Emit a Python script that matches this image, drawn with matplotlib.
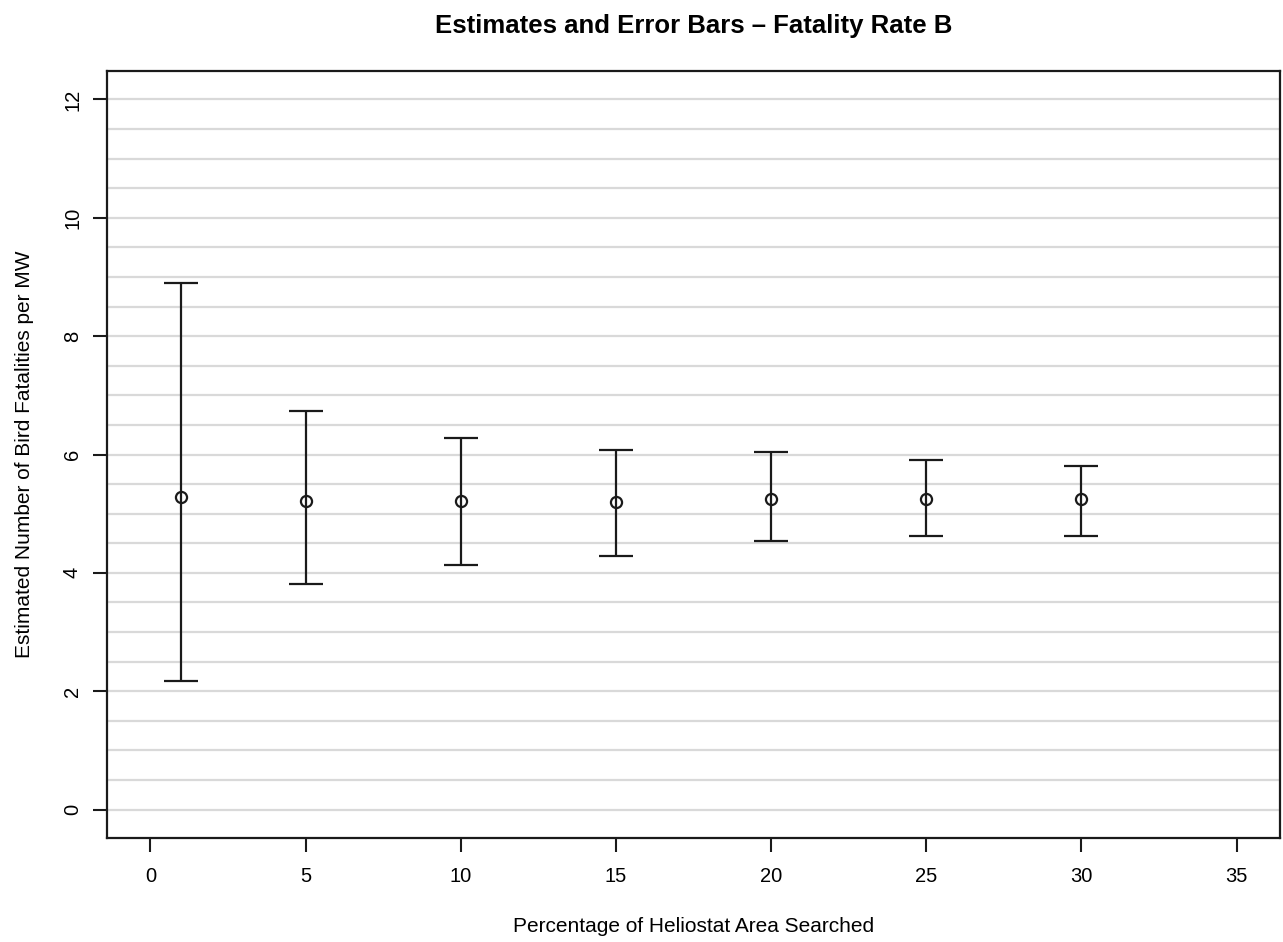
import matplotlib
matplotlib.use('Agg')
import matplotlib.pyplot as plt
import numpy as np

plt.rcParams['font.family'] = ['Liberation Sans', 'DejaVu Sans']

# dati
percent = [1, 5, 10, 15, 20, 25, 30]
estimate = [5.28, 5.21, 5.21, 5.19, 5.24, 5.24, 5.24]
lower = [2.17, 3.82, 4.14, 4.28, 4.53, 4.63, 4.63]
upper = [8.89, 6.73, 6.28, 6.07, 6.05, 5.90, 5.81]

x_ticks = [0, 5, 10, 15, 20, 25, 30, 35]
y_ticks = [0, 2, 4, 6, 8, 10, 12]
grid_levels = np.arange(0, 12.01, 0.5)

fig = plt.figure(figsize=(12.83, 9.42), dpi=100)
ax = fig.add_axes([107 / 1283, 1 - 838 / 942, (1280 - 107) / 1283, (838 - 71) / 942])

# linee orizzontali grigie
for g in grid_levels:
    ax.axhline(g, color='#d9d9d9', lw=1.6, zorder=0)

est = np.array(estimate)
err = [est - np.array(lower), np.array(upper) - est]
ax.errorbar(percent, estimate, yerr=err, fmt='o', mfc='none', mec='#1a1a1a',
            ms=8, mew=1.6, ecolor='#1a1a1a', elinewidth=1.6, capsize=12,
            capthick=1.6, zorder=3)

ax.set_xlim(-1.4, 36.4)
ax.set_ylim(-0.48, 12.48)
ax.set_xticks(x_ticks)
ax.set_yticks(y_ticks)
ax.set_yticklabels([str(v) for v in y_ticks], rotation=90, va='center')
ax.tick_params(axis='both', length=10, width=1.5, labelsize=14.5, color='#1a1a1a')
ax.tick_params(axis='x', pad=11)
ax.tick_params(axis='y', pad=8)

for s in ax.spines.values():
    s.set_linewidth(1.6)
    s.set_color('#1a1a1a')

ax.set_xlabel('Percentage of Heliostat Area Searched', fontsize=15, labelpad=22)
ax.set_ylabel('Estimated Number of Bird Fatalities per MW', fontsize=15, labelpad=21)
ax.set_title('Estimates and Error Bars \u2013 Fatality Rate B', fontsize=18.5,
             fontweight='bold', pad=27)

plt.savefig('out.png', dpi=100)
plt.close()
